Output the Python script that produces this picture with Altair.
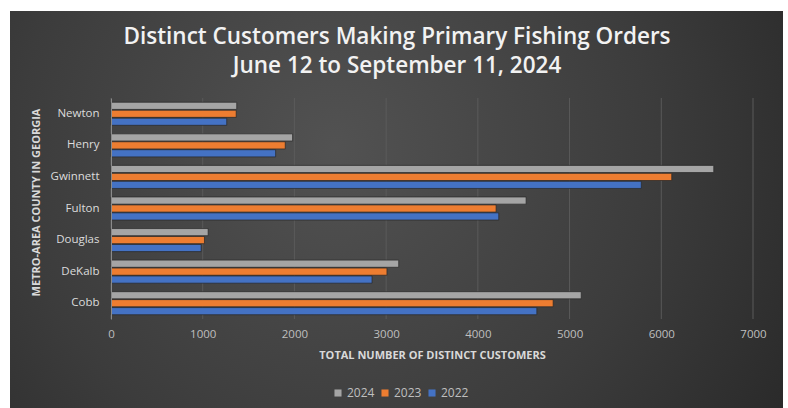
import altair as alt
import pandas as pd

counties = ["Newton", "Henry", "Gwinnett", "Fulton", "Douglas", "DeKalb", "Cobb"]
years = ["2024", "2023", "2022"]
v2024 = [1371, 1980, 6572, 4526, 1059, 3137, 5127]
v2023 = [1365, 1900, 6114, 4199, 1019, 3009, 4821]
v2022 = [1262, 1795, 5782, 4228, 983, 2846, 4643]
colors = ["#a5a5a5", "#ed7d31", "#4472c4"]
ticks = [0, 1000, 2000, 3000, 4000, 5000, 6000, 7000]

rows = []
for yr, vals in zip(years, [v2024, v2023, v2022]):
    for c, v in zip(counties, vals):
        rows.append({"County": c, "Year": yr, "Customers": v})
df = pd.DataFrame(rows)
grid_df = pd.DataFrame({"Customers": ticks})

FONT = "Open Sans"
xscale = alt.Scale(domain=[0, 7000])
x_axis = alt.Axis(
    values=ticks,
    format="d",
    title="TOTAL NUMBER OF DISTINCT CUSTOMERS",
    titleFont=FONT, titleFontSize=11, titleFontWeight="bold",
    titleColor="#d9d9d9", titleY=30, titleBaseline="top",
    labelFont=FONT, labelFontSize=11.5, labelColor="#bfbfbf",
    labelPadding=9, labelFlush=False, ticks=False, domain=False,
    grid=False, zindex=1,
)

panel = alt.Chart(pd.DataFrame({"a": [0]})).mark_rect(
    color=alt.RadialGradient(
        gradient="radial",
        stops=[
            alt.GradientStop(color="#525252", offset=0),
            alt.GradientStop(color="#3c3c3c", offset=0.55),
            alt.GradientStop(color="#252525", offset=1),
        ],
        x1=0.42, y1=0.42, r1=0, x2=0.42, y2=0.42, r2=0.75,
    )
).encode(
    x=alt.value(-101), x2=alt.value(672), y=alt.value(-87), y2=alt.value(310)
)

grid = alt.Chart(grid_df).mark_rule(color="#5a5a5a", strokeWidth=1).encode(
    x=alt.X("Customers:Q", scale=xscale, axis=x_axis),
    y=alt.value(0), y2=alt.value(221),
)

bars = alt.Chart(df).mark_bar(stroke="#262626", strokeWidth=0.7).encode(
    y=alt.Y(
        "County:N",
        sort=counties,
        scale=alt.Scale(paddingInner=0.27, paddingOuter=0.135),
        axis=alt.Axis(
            title="METRO-AREA COUNTY IN GEORGIA",
            titleFont=FONT, titleFontSize=11, titleFontWeight="bold",
            titleColor="#d9d9d9", titleAngle=-90,
            titleX=-75, titleY=104, titleAlign="center", titleBaseline="middle",
            labelFont=FONT, labelFontSize=11.5, labelColor="#dcdcdc",
            labelPadding=12, ticks=False, domainColor="#8a8a8a", domainWidth=1,
            grid=False, zindex=1,
        ),
    ),
    yOffset=alt.YOffset("Year:N", sort=years, scale=alt.Scale(paddingInner=0.1)),
    x=alt.X("Customers:Q", scale=xscale, axis=x_axis),
    color=alt.Color(
        "Year:N",
        scale=alt.Scale(domain=years, range=colors),
        legend=alt.Legend(
            title=None, orient="none", direction="horizontal",
            legendX=221, legendY=289,
            symbolType="square", symbolSize=50, symbolStrokeWidth=0,
            labelFont=FONT, labelFontSize=12, labelColor="#bfbfbf",
            labelOffset=3, columnPadding=4,
        ),
    ),
)

chart = alt.layer(panel, grid, bars).properties(
    width=642,
    height=221,
    autosize=alt.AutoSizeParams(type="none"),
    padding={"left": 111, "top": 98, "right": 35, "bottom": 89},
    background="white",
    title=alt.TitleParams(
        text=["Distinct Customers Making Primary Fishing Orders", "June 12 to September 11, 2024"],
        font=FONT, fontSize=22.5, fontWeight=600, color="#f2f2f2",
        anchor="middle", dx=-35, offset=20, dy=86, lineHeight=29,
    ),
).configure_view(stroke=None)

chart.save("out.html", embed_options={"renderer": "svg", "actions": False})
